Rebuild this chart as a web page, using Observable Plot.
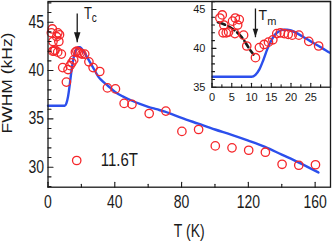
<!DOCTYPE html>
<html><head><meta charset="utf-8">
<script src="https://cdn.jsdelivr.net/npm/d3@7"></script>
<script src="https://cdn.jsdelivr.net/npm/@observablehq/plot@0.6"></script>
<style>
body{margin:0;background:#fff;}
#wrap{position:relative;width:332px;height:241px;overflow:hidden;background:#fff;}
#wrap svg{position:absolute;left:0;top:0;}
</style></head><body><div id="wrap"></div>
<script>
// ---- data ----
const lowT = [2.0, 2.6, 3.0, 2.8, 3.6, 4.2, 5.2, 5.9, 6.9, 6.5, 5.8, 8.0, 8.8, 11.0, 12.0, 13.2, 14.3, 15.4, 16.4, 17.3, 18.3, 19.3, 20.3, 22.0, 24.5, 27.0];
const lowW = [43.9, 44.3, 43.0, 42.0, 42.0, 42.1, 43.5, 43.9, 43.7, 43.0, 41.9, 41.7, 40.3, 38.8, 40.1, 40.5, 40.8, 41.1, 41.9, 42.0, 41.9, 41.8, 41.7, 41.7, 40.9, 40.3];
const highT = [31.0, 35.6, 40.4, 45.6, 50.3, 60.6, 70.6, 80.2, 90.2, 100.2, 110.2, 120.2, 130.2, 140.2, 150.2, 160.2];
const highW = [39.9, 38.2, 38.1, 36.6, 36.5, 35.55, 35.8, 33.7, 33.9, 32.2, 32.0, 31.75, 31.55, 30.3, 30.2, 30.25];
const fitT = [0, 10, 11, 12, 13, 14, 15, 16, 17, 18, 19, 20, 22, 24, 26, 28, 30, 32, 36, 40, 45, 50, 55, 60, 65, 70, 80, 90, 100, 110, 120, 130, 140, 150, 162];
const fitW = [36.35, 36.35, 36.6, 37.3, 38.5, 39.9, 41.0, 41.8, 42.2, 42.4, 42.4, 42.3, 41.8, 41.2, 40.6, 40.0, 39.4, 39.0, 38.4, 37.8, 37.3, 36.9, 36.55, 36.25, 36.0, 35.75, 35.1, 34.5, 33.9, 33.35, 32.75, 32.1, 31.3, 30.5, 29.45];
const dashT = [1.5, 3.5, 5.5, 7.5, 9.0, 10.5];
const dashW = [43.35, 43.0, 42.4, 41.45, 40.3, 39.2];
const tcArrow = {T: 17.5, W1: 45.9, W2: 42.93};
const tmArrow = {T: 11.0, W1: 45.13, W2: 41.43};
const xTicksMain = [0, 40, 80, 120, 160];
const xMinorMain = [20, 60, 100, 140];
const yTicksMain = [30, 35, 40, 45];
const yMinorMain = [28, 29, 31, 32, 33, 34, 36, 37, 38, 39, 41, 42, 43, 44, 46, 47];
const xTicksInset = [0, 5, 10, 15, 20, 25];
const xMinorInset = [2.5, 7.5, 12.5, 17.5, 22.5, 27.5];
const yTicksInset = [35, 40, 45];
const yMinorInset = [36, 37, 38, 39, 41, 42, 43, 44, 46];
const xLabel = "T (K)";
const yLabel = "FWHM (kHz)";
const legendLabel = "11.6T";

// ---- tables ----
const pts = lowT.map((T, i) => ({T, W: lowW[i]})).concat(highT.map((T, i) => ({T, W: highW[i]})));
const fit = fitT.map((T, i) => ({T, W: fitW[i]}));
const dash = dashT.map((T, i) => ({T, W: dashW[i]}));

const red = "#f5262a", blue = "#2c4fec", ink = "#1a1a1a";
const font = "'Liberation Sans', Arial, Helvetica, sans-serif";
const tickShape = {draw(ctx, l) { ctx.moveTo(0, 0); ctx.lineTo(0, -l); }};
const head = (w, h) => ({draw(ctx) { ctx.moveTo(0, 0); ctx.lineTo(-w / 2, -h); ctx.lineTo(w / 2, -h); ctx.closePath(); }});

function ticks(xs, ys, xDom, yDom, major, minor) {
  return [
    Plot.vector(xs[0], {x: d => d, y: yDom[0], length: major, shape: tickShape, anchor: "start", stroke: ink, strokeWidth: 1.1}),
    Plot.vector(xs[1], {x: d => d, y: yDom[0], length: minor, shape: tickShape, anchor: "start", stroke: ink, strokeWidth: 1.1}),
    Plot.vector(ys[0], {x: xDom[0], y: d => d, length: major, rotate: 90, shape: tickShape, anchor: "start", stroke: ink, strokeWidth: 1.1}),
    Plot.vector(ys[1], {x: xDom[0], y: d => d, length: minor, rotate: 90, shape: tickShape, anchor: "start", stroke: ink, strokeWidth: 1.1})
  ];
}

const mX = [0, 169.2], mY = [27.93, 47.14];
const main = Plot.plot({
  width: 332, height: 241,
  marginLeft: 47.5, marginRight: 2, marginTop: 1, marginBottom: 54.3,
  style: {fontFamily: font, fontSize: "14px", background: "transparent", color: ink},
  x: {domain: mX},
  y: {domain: mY},
  marks: [
    Plot.line(fit, {x: "T", y: "W", stroke: blue, strokeWidth: 2.4, curve: "monotone-x"}),
    Plot.dot(pts, {x: "T", y: "W", r: 4.2, stroke: red, strokeWidth: 1.3, fill: "none"}),
    Plot.frame({stroke: ink, strokeWidth: 1.3}),
    ...ticks([xTicksMain, xMinorMain], [yTicksMain, yMinorMain], mX, mY, 5, 3),
    Plot.axisX({ticks: xTicksMain, tickSize: 0, tickPadding: 8.3, label: null, fontSize: 14, fill: ink}),
    Plot.axisY({ticks: yTicksMain, tickSize: 0, tickPadding: 4, label: null, fontSize: 14, fill: ink}),
    Plot.text([xLabel], {frameAnchor: "bottom", dy: 44.5, textAnchor: "middle", lineAnchor: "middle", fontSize: 14, fill: ink}),
    Plot.text([yLabel], {frameAnchor: "left", rotate: -90, dx: -40, dy: -11.3, textAnchor: "middle", lineAnchor: "middle", fontSize: 14, fill: ink}),
    Plot.link([tcArrow], {x1: "T", x2: "T", y1: "W1", y2: "W2", stroke: ink, strokeWidth: 1.3}),
    Plot.dot([tcArrow], {x: "T", y: "W2", symbol: head(6.5, 10), fill: ink, stroke: "none"}),
    Plot.text(["T"], {x: 21.5, y: 45.82, textAnchor: "start", lineAnchor: "middle", fontSize: 13, fill: ink}),
    Plot.text(["c"], {x: 26.2, y: 45.39, textAnchor: "start", lineAnchor: "middle", fontSize: 10, fill: ink}),
    Plot.dot([0], {x: 17.2, y: 30.69, r: 4.2, stroke: red, strokeWidth: 1.3, fill: "none"}),
    Plot.text([legendLabel], {x: 31.6, y: 30.74, textAnchor: "start", lineAnchor: "middle", fontSize: 15, fill: ink})
  ]
});

const iX = [0, 30], iY = [35, 46.03];
const inset = Plot.plot({
  width: 332, height: 110,
  marginLeft: 211.5, marginRight: 2, marginTop: 1, marginBottom: 23.3,
  style: {fontFamily: font, fontSize: "11px", background: "transparent", color: ink},
  x: {domain: iX},
  y: {domain: iY},
  marks: [
    Plot.line(fit, {x: "T", y: "W", stroke: blue, strokeWidth: 2.4, curve: "monotone-x", clip: true}),
    Plot.line(dash, {x: "T", y: "W", stroke: ink, strokeWidth: 2.6, strokeDasharray: "7.5,3.5", curve: "natural"}),
    Plot.dot(pts.filter(d => d.T < 30), {x: "T", y: "W", r: 4.2, stroke: red, strokeWidth: 1.3, fill: "none"}),
    Plot.frame({stroke: ink, strokeWidth: 1.3}),
    ...ticks([xTicksInset, xMinorInset], [yTicksInset, yMinorInset], iX, iY, 4, 2.5),
    Plot.axisX({ticks: xTicksInset, tickSize: 0, tickPadding: 5.5, label: null, fontSize: 11, fill: ink}),
    Plot.axisY({ticks: yTicksInset, tickSize: 0, tickPadding: 6.5, label: null, fontSize: 11, fill: ink}),
    Plot.link([tmArrow], {x1: "T", x2: "T", y1: "W1", y2: "W2", stroke: ink, strokeWidth: 1.3}),
    Plot.dot([tmArrow], {x: "T", y: "W2", symbol: head(5.5, 8.5), fill: ink, stroke: "none"}),
    Plot.text(["T"], {x: 11.8, y: 44.18, textAnchor: "start", lineAnchor: "middle", fontSize: 14, fill: ink}),
    Plot.text(["m"], {x: 14.0, y: 43.4, textAnchor: "start", lineAnchor: "middle", fontSize: 11, fill: ink})
  ]
});

// vertical stretch of main-chart lettering, as in the reference
main.querySelectorAll("text").forEach(t => {
  const tl = t.transform.baseVal.consolidate();
  const e = tl ? tl.matrix.e : (+t.getAttribute("x") || 0);
  const f = tl ? tl.matrix.f : (+t.getAttribute("y") || 0);
  const old = t.getAttribute("transform") || "";
  t.setAttribute("transform", `translate(${e},${f}) scale(1,1.25) translate(${-e},${-f}) ${old}`);
});

const wrap = document.getElementById("wrap");
wrap.appendChild(main);
wrap.appendChild(inset);
</script></body></html>
